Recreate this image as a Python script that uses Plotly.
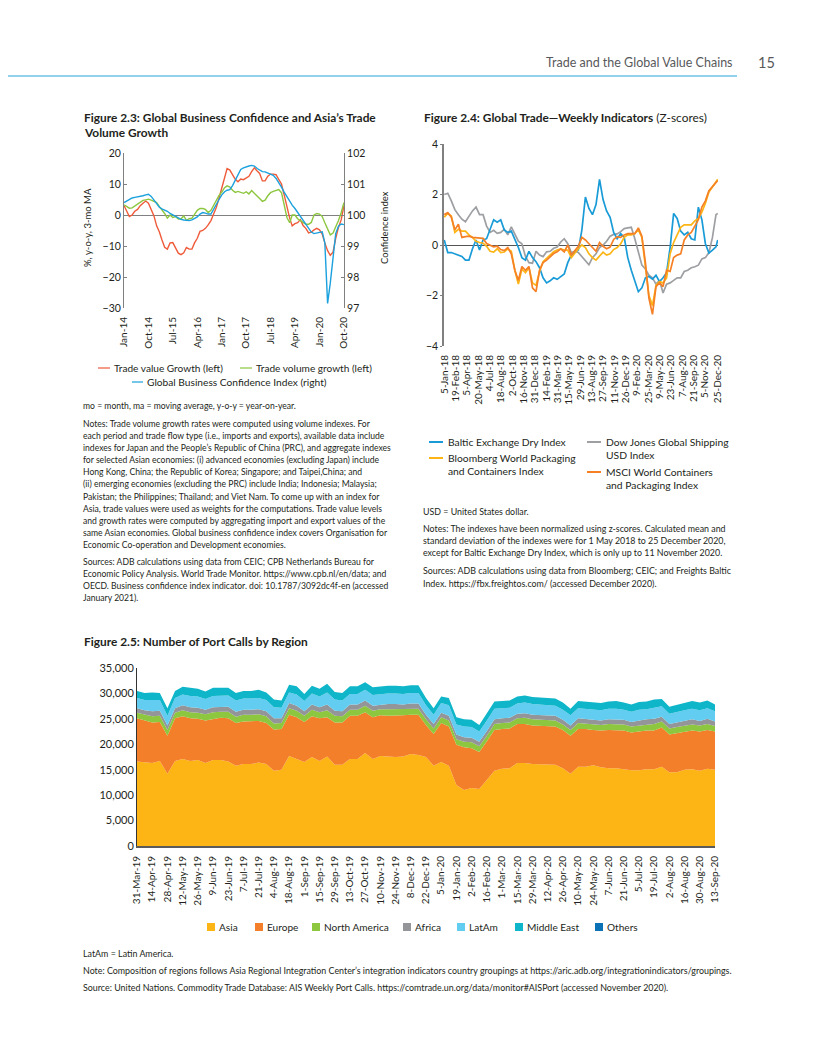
import plotly.graph_objects as go
import pandas as pd

# page is rendered with an 8px body margin, so the figure is 8px smaller and coordinates shifted
OFF = 8
W, H = 816 - OFF, 1056 - OFF
FONT = "Lato"
TXT = "#231F20"


def px(x):
    return (x - OFF) / W


def py(y):
    return 1 - (y - OFF) / H


# ---------------- Figure 2.3 data (monthly, Jan-2014 .. Oct-2020) ----------------
F23_START = "2014-01-01"
F23_N = 82
TRADE_VALUE = [3.0, 1.0, -0.5, 0.0, 1.2, 1.8, 3.0, 3.8, 4.5, 3.8,
               2.0, -0.2, -3.5, -5.5, -8.0, -10.4, -11.0, -9.0, -8.9, -10.5,
               -12.3, -12.8, -12.2, -10.5, -11.0, -11.0, -9.0, -7.5, -5.3, -5.0,
               -4.3, -3.2, -1.8, 0.3, 2.5, 5.5, 9.0, 12.0, 15.0, 14.5,
               12.8, 11.5, 10.7, 11.6, 11.4, 12.0, 12.5, 14.0, 15.2, 14.2,
               13.4, 11.0, 11.0, 12.5, 13.2, 13.2, 13.0, 11.5, 10.0, 6.5,
               2.5, -1.0, -3.5, -2.8, -2.5, -1.5, -3.4, -4.3, -5.8, -5.5,
               -4.8, -4.3, -4.8, -6.2, -9.0, -11.5, -13.0, -12.0, -7.5, -4.0,
               -1.5, 3.0]
TRADE_VOLUME = [3.3, 2.6, 2.2, 2.3, 2.9, 3.6, 4.2, 4.7, 4.9, 5.1,
                4.8, 4.5, 4.0, 2.7, 1.8, 0.5, -1.0, 0.0, -0.8, -0.5,
                -1.3, -1.2, -0.3, -1.7, -1.2, -1.0, 0.2, 1.5, 2.1, 2.1,
                1.8, 0.8, 1.5, 3.0, 5.0, 6.3, 7.4, 8.8, 9.4, 9.0,
                8.0, 7.3, 7.6, 7.4, 7.0, 7.5, 6.8, 7.9, 7.1, 6.3,
                5.3, 4.4, 4.8, 6.2, 7.2, 7.6, 7.9, 8.2, 7.2, 3.5,
                -0.8, -2.5, 0.0, 0.0, -1.2, -1.8, -2.3, -3.0, -3.0, -2.4,
                0.0, 0.5, 0.3, -0.5, -2.5, -4.5, -6.4, -5.8, -4.0, -1.8,
                0.8, 4.0]
CONFIDENCE = [100.40, 100.45, 100.50, 100.55, 100.57, 100.58, 100.59, 100.62, 100.65, 100.67,
              100.60, 100.48, 100.36, 100.25, 100.20, 100.17, 100.12, 100.05, 100.00, 99.95,
              99.90, 99.86, 99.84, 99.82, 99.82, 99.84, 99.88, 99.94, 100.03, 100.08,
              100.06, 100.03, 100.03, 100.20, 100.37, 100.50, 100.65, 100.75, 100.80, 100.82,
              100.95, 101.12, 101.30, 101.47, 101.52, 101.56, 101.58, 101.60, 101.58, 101.50,
              101.44, 101.40, 101.39, 101.36, 101.32, 101.28, 101.18, 101.05, 100.90, 100.74,
              100.59, 100.45, 100.32, 100.21, 100.08, 99.95, 99.83, 99.70, 99.57, 99.45,
              99.40, 99.42, 99.45, 99.46, 99.10, 97.15, 97.80, 98.70, 99.40, 99.64,
              99.71, 99.69]
F23_TICKS = ["2014-01-01", "2014-10-01", "2015-07-01", "2016-04-01", "2017-01-01",
             "2017-10-01", "2018-07-01", "2019-04-01", "2020-01-01", "2020-10-01"]
F23_TICKTEXT = ["Jan-14", "Oct-14", "Jul-15", "Apr-16", "Jan-17",
                "Oct-17", "Jul-18", "Apr-19", "Jan-20", "Oct-20"]

# ---------------- Figure 2.4 data (z-scores, every 2 weeks from 5-Jan-18, last 25-Dec-20) ----------------
F24_START = "2018-01-05"
F24_LAST = "2020-12-25"
BALTIC = [0.2, -0.3, -0.3, -0.35, -0.4, -0.45, -0.6, -0.6, -0.15, 0.2,
          -0.2, 0.2, 0.25, 0.6, 1.0, 0.9, 1.0, 0.6, 0.5, 0.55,
          0.25, -0.1, -0.5, -0.6, -0.25, -0.5, -0.66, -0.9, -1.3, -1.5,
          -1.42, -1.3, -1.36, -1.25, -1.15, -0.7, -0.4, -0.28, -0.2, 0.6,
          1.9, 1.45, 1.2, 1.6, 2.6, 1.8, 1.35, 1.1, 0.5, 0.25,
          0.45, 0.3, -0.5, -1.0, -1.45, -1.85, -1.7, -1.3, -1.25, -1.35,
          -1.2, -1.45, -1.3, -1.1, -0.1, 1.25, 1.05, 0.55, 0.4, 0.5,
          0.25, 0.2, 1.5, 1.0, 0.05, -0.32, -0.2, -0.07, 0.2]
DOW_JONES = [2.0, 2.05, 1.75, 1.4, 1.2, 1.02, 0.92, 1.15, 1.35, 1.5,
             1.2, 1.2, 0.75, 0.5, 0.58, 0.46, 0.5, 0.62, 0.4, 0.72,
             0.45, 0.15, 0.05, -0.45, -0.7, -0.72, -0.25, -0.4, -0.46, -0.27,
             -0.25, -0.13, -0.08, 0.12, 0.25, 0.05, -0.3, -0.25, -0.3, -0.45,
             -0.64, -0.78, -0.5, -0.35, -0.1, 0.0, 0.15, 0.35, 0.42, 0.44,
             0.53, 0.65, 0.68, 0.7, 0.25, -0.28, -0.8, -0.95, -1.2, -1.3,
             -1.55, -1.4, -1.9, -1.55, -1.5, -1.4, -1.3, -1.3, -1.05, -1.0,
             -0.9, -0.86, -0.8, -0.55, -0.5, -0.3, 0.3, 1.2, 1.25]
BLOOMBERG = [1.1, 1.25, 1.15, 0.5, 0.62, 0.55, 0.55, 0.4, 0.3, 0.15,
             0.1, 0.07, -0.05, -0.25, -0.28, -0.15, -0.3, -0.28, -0.15, -0.25,
             -1.0, -1.55, -0.95, -1.1, -0.9, -1.5, -1.6, -1.05, -0.66, -0.52,
             -0.4, -0.27, -0.2, -0.15, -0.2, -0.2, -0.5, -0.3, -0.15, 0.0,
             -0.1, -0.35, -0.5, -0.6, -0.45, -0.28, -0.4, -0.35, -0.18, -0.1,
             0.05, 0.3, 0.4, 0.4, 0.45, 0.6, 0.3, -0.75, -2.0, -2.4,
             -1.6, -1.45, -1.5, -1.3, -0.35, 0.1, 0.4, 0.7, 0.8, 0.8,
             0.8, 0.95, 1.05, 1.3, 1.65, 2.1, 2.3, 2.45, 2.6]
MSCI = [1.2, 1.28, 1.1, 0.6, 0.82, 0.3, 0.33, 0.35, 0.3, 0.28,
        0.28, 0.26, 0.06, 0.0, -0.07, -0.05, -0.18, -0.22, -0.1, -0.35,
        -1.0, -1.4, -0.85, -1.0, -0.85, -1.7, -1.85, -1.0, -0.7, -0.6,
        -0.46, -0.34, -0.27, -0.15, -0.27, 0.0, -0.4, -0.2, -0.05, 0.3,
        0.2, 0.05, -0.1, -0.25, 0.1, -0.05, -0.15, -0.08, 0.22, 0.33,
        0.3, 0.4, 0.45, 0.45, 0.45, 0.68, 0.35, -0.7, -2.1, -2.75,
        -1.65, -1.5, -1.65, -1.0, -1.05, -0.5, -0.4, -0.35, 0.2, 0.4,
        0.5, 0.75, 1.0, 1.5, 1.75, 2.15, 2.3, 2.45, 2.55]
F24_TICKS = ["2018-01-05", "2018-02-19", "2018-04-05", "2018-05-20", "2018-07-04",
             "2018-08-18", "2018-10-02", "2018-11-16", "2018-12-31", "2019-02-14",
             "2019-03-31", "2019-05-15", "2019-06-29", "2019-08-13", "2019-09-27",
             "2019-11-11", "2019-12-26", "2020-02-09", "2020-03-25", "2020-05-09",
             "2020-06-23", "2020-08-07", "2020-09-21", "2020-11-05", "2020-12-25"]
F24_TICKTEXT = ["5-Jan-18", "19-Feb-18", "5-Apr-18", "20-May-18", "4-Jul-18",
                "18-Aug-18", "2-Oct-18", "16-Nov-18", "31-Dec-18", "14-Feb-19",
                "31-Mar-19", "15-May-19", "29-Jun-19", "13-Aug-19", "27-Sep-19",
                "11-Nov-19", "26-Dec-19", "9-Feb-20", "25-Mar-20", "9-May-20",
                "23-Jun-20", "7-Aug-20", "21-Sep-20", "5-Nov-20", "25-Dec-20"]

# ---------------- Figure 2.5 data (thousand port calls, weekly 31-Mar-19 .. 13-Sep-20) ----------------
F25_START = "2019-03-31"
F25_N = 77
ASIA = [16.6, 16.4, 16.3, 16.7, 14.2, 16.7, 17.1, 16.7, 16.9, 16.3,
        16.9, 16.9, 16.6, 15.8, 16.1, 16.1, 16.4, 16.1, 14.8, 15.0,
        17.7, 17.1, 16.5, 17.5, 16.7, 17.6, 16.0, 16.0, 17.1, 17.1,
        18.3, 17.1, 17.7, 17.6, 17.5, 17.6, 18.1, 17.9, 17.5, 15.8,
        16.5, 15.8, 12.0, 11.0, 11.4, 11.2, 13.0, 14.8, 15.2, 15.3,
        16.3, 16.3, 16.1, 16.1, 16.1, 16.0, 15.3, 14.2, 15.6, 15.6,
        15.9, 15.5, 15.3, 15.3, 15.1, 14.9, 14.9, 15.1, 15.1, 15.6,
        14.5, 14.5, 15.0, 15.1, 14.8, 15.2, 15.0]
EUROPE = [8.5, 8.3, 8.0, 7.7, 7.5, 8.4, 8.4, 8.4, 8.1, 8.4,
          8.1, 8.3, 8.5, 8.4, 8.4, 8.4, 8.2, 8.1, 8.1, 8.0,
          8.1, 8.2, 7.9, 8.0, 8.4, 7.7, 8.3, 8.3, 8.5, 8.5,
          8.0, 8.2, 8.0, 8.0, 8.1, 8.1, 7.7, 7.9, 6.3, 6.2,
          7.7, 7.7, 7.9, 8.4, 7.8, 7.3, 7.6, 8.0, 7.8, 7.8,
          7.7, 7.7, 7.6, 7.5, 7.4, 7.5, 7.5, 7.5, 7.4, 7.4,
          6.9, 7.2, 7.5, 7.5, 7.6, 7.4, 7.6, 7.6, 7.6, 7.7,
          7.4, 7.7, 7.5, 7.6, 7.7, 7.6, 7.5]
NORTH_AMERICA = [1.1, 1.1, 1.2, 1.2, 1.1, 1.1, 1.2, 1.2, 1.2, 1.2,
                 1.3, 1.2, 1.3, 1.2, 1.3, 1.3, 1.3, 1.3, 1.2, 1.2,
                 1.3, 1.3, 1.2, 1.3, 1.2, 1.4, 1.3, 1.2, 1.2, 1.2,
                 1.3, 1.3, 1.2, 1.3, 1.3, 1.2, 1.2, 1.2, 1.1, 1.1,
                 1.1, 1.2, 1.1, 1.1, 1.2, 1.1, 1.1, 1.2, 1.2, 1.2,
                 1.1, 1.2, 1.2, 1.2, 1.2, 1.2, 1.1, 1.1, 1.2, 1.1,
                 1.2, 1.1, 1.2, 1.2, 1.2, 1.2, 1.2, 1.2, 1.3, 1.2,
                 1.2, 1.2, 1.2, 1.2, 1.2, 1.2, 1.1]
AFRICA = [0.9, 0.9, 1.0, 1.0, 0.9, 0.9, 1.0, 1.0, 1.0, 0.9,
          1.0, 1.0, 1.0, 1.0, 1.0, 1.0, 1.0, 1.0, 1.0, 0.9,
          1.0, 1.0, 0.9, 1.0, 1.0, 1.1, 1.0, 1.0, 1.0, 1.0,
          1.0, 1.0, 0.9, 1.0, 1.0, 0.9, 1.0, 1.0, 0.9, 0.9,
          0.9, 0.9, 0.9, 0.9, 0.9, 0.9, 0.9, 0.9, 0.9, 0.9,
          0.9, 0.9, 0.9, 0.9, 0.9, 0.9, 0.9, 0.9, 0.9, 0.9,
          0.9, 0.9, 0.9, 0.9, 0.9, 0.9, 1.0, 1.0, 1.0, 0.9,
          0.9, 0.9, 0.9, 1.0, 0.9, 1.0, 0.9]
LATAM = [2.0, 2.0, 2.2, 2.1, 1.9, 2.0, 2.1, 2.2, 2.2, 2.1,
         2.2, 2.2, 2.2, 2.2, 2.2, 2.2, 2.2, 2.2, 2.2, 2.1,
         2.1, 2.2, 2.0, 2.2, 2.1, 2.4, 2.2, 2.1, 2.1, 2.1,
         2.1, 2.1, 2.1, 2.1, 2.1, 2.1, 2.1, 2.1, 1.9, 1.8,
         1.9, 2.1, 2.0, 2.1, 2.1, 2.0, 2.1, 2.1, 2.0, 2.0,
         2.0, 2.1, 2.1, 2.1, 2.0, 2.0, 2.0, 2.0, 2.0, 2.0,
         2.0, 2.0, 2.1, 2.1, 2.0, 2.0, 2.1, 2.0, 2.2, 2.1,
         2.0, 2.1, 2.1, 2.1, 2.1, 2.1, 2.0]
MIDDLE_EAST = [1.4, 1.4, 1.5, 1.4, 1.5, 1.4, 1.5, 1.6, 1.5, 1.5,
               1.6, 1.5, 1.5, 1.5, 1.5, 1.5, 1.6, 1.5, 1.5, 1.4,
               1.5, 1.6, 1.4, 1.5, 1.5, 1.7, 1.5, 1.5, 1.5, 1.5,
               1.5, 1.5, 1.5, 1.5, 1.5, 1.5, 1.5, 1.5, 1.4, 1.3,
               1.3, 1.4, 1.4, 1.4, 1.4, 1.3, 1.4, 1.4, 1.4, 1.4,
               1.4, 1.4, 1.4, 1.4, 1.4, 1.4, 1.4, 1.3, 1.4, 1.4,
               1.4, 1.4, 1.4, 1.5, 1.4, 1.4, 1.5, 1.5, 1.6, 1.4,
               1.4, 1.4, 1.5, 1.5, 1.5, 1.5, 1.3]
OTHERS = [0.0, 0.0, 0.0, 0.0, 0.0, 0.0, 0.0, 0.0, 0.0, 0.0,
          0.0, 0.0, 0.0, 0.0, 0.0, 0.0, 0.0, 0.0, 0.0, 0.0,
          0.0, 0.0, 0.0, 0.0, 0.0, 0.0, 0.0, 0.0, 0.0, 0.0,
          0.0, 0.0, 0.0, 0.0, 0.0, 0.0, 0.0, 0.0, 0.0, 0.0,
          0.0, 0.0, 0.0, 0.0, 0.0, 0.0, 0.0, 0.0, 0.0, 0.0,
          0.0, 0.0, 0.0, 0.0, 0.0, 0.0, 0.0, 0.0, 0.0, 0.0,
          0.0, 0.0, 0.0, 0.0, 0.0, 0.0, 0.0, 0.0, 0.0, 0.0,
          0.0, 0.0, 0.0, 0.0, 0.0, 0.0, 0.0]
F25_TICKTEXT = ["31-Mar-19", "14-Apr-19", "28-Apr-19", "12-May-19", "26-May-19", "9-Jun-19",
                "23-Jun-19", "7-Jul-19", "21-Jul-19", "4-Aug-19", "18-Aug-19", "1-Sep-19",
                "15-Sep-19", "29-Sep-19", "13-Oct-19", "27-Oct-19", "10-Nov-19", "24-Nov-19",
                "8-Dec-19", "22-Dec-19", "5-Jan-20", "19-Jan-20", "2-Feb-20", "16-Feb-20",
                "1-Mar-20", "15-Mar-20", "29-Mar-20", "12-Apr-20", "26-Apr-20", "10-May-20",
                "24-May-20", "7-Jun-20", "21-Jun-20", "5-Jul-20", "19-Jul-20", "2-Aug-20",
                "16-Aug-20", "30-Aug-20", "13-Sep-20"]
F25_YTICKS = [0, 5, 10, 15, 20, 25, 30, 35]
F25_YTICKTEXT = ["0", "5,000", "10,000", "15,000", "20,000", "25,000", "30,000", "35,000"]

# ---------------- colours ----------------
C_RED = "#EF5B3A"
C_GREEN = "#8DC63F"
C_BLUE = "#1BA1DD"
C24 = {"Baltic": "#199BD7", "Bloomberg": "#FDB515", "Dow": "#9D9FA2", "MSCI": "#F58025"}
C25 = {"Asia": "#FDB515", "Europe": "#F47F2A", "North America": "#8DC63F", "Africa": "#939598",
       "LatAm": "#62CCF1", "Middle East": "#0FB6C9", "Others": "#0B72B5"}

f23_x = pd.date_range(F23_START, periods=F23_N, freq="MS")
f24_x = list(pd.date_range(F24_START, periods=len(BALTIC) - 1, freq="14D")) + [pd.Timestamp(F24_LAST)]
f25_x = pd.date_range(F25_START, periods=F25_N, freq="7D")

fig = go.Figure()

# Figure 2.3
fig.add_trace(go.Scatter(x=f23_x, y=TRADE_VALUE, mode="lines", line=dict(color=C_RED, width=1.4),
                         xaxis="x", yaxis="y"))
fig.add_trace(go.Scatter(x=f23_x, y=TRADE_VOLUME, mode="lines", line=dict(color=C_GREEN, width=1.4),
                         xaxis="x", yaxis="y"))
fig.add_trace(go.Scatter(x=f23_x, y=CONFIDENCE, mode="lines", line=dict(color=C_BLUE, width=1.4),
                         xaxis="x", yaxis="y2"))

# Figure 2.4
for name, vals in [("Dow", DOW_JONES), ("Baltic", BALTIC), ("Bloomberg", BLOOMBERG), ("MSCI", MSCI)]:
    fig.add_trace(go.Scatter(x=f24_x, y=vals, mode="lines", line=dict(color=C24[name], width=1.7),
                             xaxis="x2", yaxis="y3"))

# Figure 2.5
for name, vals in [("Asia", ASIA), ("Europe", EUROPE), ("North America", NORTH_AMERICA),
                   ("Africa", AFRICA), ("LatAm", LATAM), ("Middle East", MIDDLE_EAST), ("Others", OTHERS)]:
    fig.add_trace(go.Scatter(x=f25_x, y=vals, mode="lines", stackgroup="one",
                             line=dict(width=0, color=C25[name]), fillcolor=C25[name],
                             xaxis="x4", yaxis="y4"))

AX_GRAY = "#808080"
tickfont = dict(family=FONT, size=10, color=TXT)
CLEAR = "rgba(0,0,0,0)"

fig.update_layout(
    template="none",
    width=W, height=H, margin=dict(l=0, r=0, t=0, b=0, pad=0, autoexpand=False),
    paper_bgcolor="white", plot_bgcolor=CLEAR, showlegend=False,
    font=dict(family=FONT, color=TXT),
    xaxis=dict(domain=[px(124), px(344)], anchor="y", type="date", automargin=False,
               range=["2013-12-31", "2020-10-02"], tickmode="array",
               tickvals=F23_TICKS, ticktext=F23_TICKTEXT, tickangle=-90,
               showgrid=False, showline=False, zeroline=False,
               ticks="outside", ticklen=4, tickcolor=CLEAR, tickfont=tickfont),
    yaxis=dict(domain=[py(308), py(153)], anchor="x", range=[-30, 20], automargin=False,
               tickvals=[-30, -20, -10, 0, 10, 20], showgrid=False, showline=True,
               linecolor=AX_GRAY, linewidth=1, ticks="inside", ticklen=3, tickcolor=AX_GRAY,
               zeroline=True, zerolinecolor=AX_GRAY, zerolinewidth=1,
               tickfont=dict(family=FONT, size=10.5, color=TXT)),
    yaxis2=dict(overlaying="y", side="right", anchor="x", range=[97, 102], automargin=False,
                tickvals=[97, 98, 99, 100, 101, 102], showgrid=False, showline=True,
                linecolor=AX_GRAY, linewidth=1, ticks="inside", ticklen=3, tickcolor=AX_GRAY,
                zeroline=False, tickfont=dict(family=FONT, size=10.5, color=TXT)),
    xaxis2=dict(domain=[px(444), px(718)], anchor="y3", type="date", automargin=False,
                range=["2018-01-04", "2020-12-26"], tickmode="array",
                tickvals=F24_TICKS, ticktext=F24_TICKTEXT, tickangle=-90,
                showgrid=False, showline=False, zeroline=False,
                ticks="outside", ticklen=4, tickcolor=CLEAR, tickfont=tickfont),
    yaxis3=dict(domain=[py(346), py(144)], anchor="x2", range=[-4, 4], automargin=False,
                tickvals=[-4, -2, 0, 2, 4], showgrid=False, showline=True,
                linecolor=AX_GRAY, linewidth=1.5, ticks="outside", ticklen=2, tickcolor=AX_GRAY,
                zeroline=True, zerolinecolor="#555555", zerolinewidth=1.2,
                tickfont=dict(family=FONT, size=10.5, color=TXT)),
    xaxis4=dict(domain=[px(137), px(715)], anchor="y4", type="date", automargin=False,
                range=["2019-03-31", "2020-09-13"], tickmode="array",
                tickvals=list(f25_x[::2]), ticktext=F25_TICKTEXT, tickangle=-90,
                showgrid=False, showline=True, linecolor="#5A5A5A", linewidth=2,
                zeroline=False, ticks="outside", ticklen=4, tickcolor=CLEAR, tickfont=tickfont),
    yaxis4=dict(domain=[py(846), py(668)], anchor="x4", range=[0, 35], automargin=False,
                tickvals=F25_YTICKS, ticktext=F25_YTICKTEXT, showgrid=False, showline=True,
                linecolor="#333333", linewidth=1, ticks="", zeroline=False,
                tickfont=dict(family=FONT, size=11, color=TXT)),
)

ann = []
shapes = []


def text(x, y, s, size=8.3, anchor="left", color=TXT, angle=0, family=FONT):
    ann.append(dict(x=px(x), y=py(y), xref="paper", yref="paper", text=s, showarrow=False,
                    xanchor=anchor, yanchor="middle", textangle=angle,
                    font=dict(family=family, size=size, color=color)))


def hline(x0, x1, y, color, width=1.5):
    shapes.append(dict(type="line", xref="paper", yref="paper", x0=px(x0), x1=px(x1),
                       y0=py(y), y1=py(y), line=dict(color=color, width=width)))


def square(x, y, color, s=8):
    shapes.append(dict(type="rect", xref="paper", yref="paper", x0=px(x), x1=px(x + s),
                       y0=py(y + s / 2), y1=py(y - s / 2), line=dict(width=0), fillcolor=color))


# header
text(735, 62, "Trade and the Global Value Chains", size=12.5, anchor="right", color="#58595B")
text(766, 62, "15", size=14.5, anchor="center", color="#58595B")
hline(OFF, 737, 76, "#2BA3DB", 1.2)

# ---- Figure 2.3 texts ----
text(82, 118, "<b>Figure 2.3: Global Business Confidence and Asia’s Trade</b>", size=11.9)
text(82, 132, "<b>Volume Growth</b>", size=11.9)
text(88, 228, "%, y-o-y, 3-mo MA", size=9.5, anchor="center", angle=-90)
text(385, 228, "Confidence index", size=9.5, anchor="center", angle=-90)
hline(98, 110, 368, C_RED, 1.2)
text(112, 368, "Trade value Growth (left)", size=10.1)
hline(240, 252, 368, C_GREEN, 1.2)
text(254, 368, "Trade volume growth (left)", size=10.1)
hline(132, 143, 382, C_BLUE, 1.2)
text(145, 382, "Global Business Confidence Index (right)", size=10.2)

f23_notes = [
    (406, "mo = month, ma = moving average, y-o-y = year-on-year."),
    (424, "Notes: Trade volume growth rates were computed using volume indexes. For"),
    (436, "each period and trade flow type (i.e., imports and exports), available data include"),
    (448, "indexes for Japan and the People’s Republic of China (PRC), and aggregate indexes"),
    (460, "for selected Asian economies: (i) advanced economies (excluding Japan) include"),
    (472, "Hong Kong, China; the Republic of Korea; Singapore; and Taipei,China; and"),
    (484, "(ii) emerging economies (excluding the PRC) include India; Indonesia; Malaysia;"),
    (497, "Pakistan; the Philippines; Thailand; and Viet Nam. To come up with an index for"),
    (509, "Asia, trade values were used as weights for the computations. Trade value levels"),
    (521, "and growth rates were computed by aggregating import and export values of the"),
    (533, "same Asian economies. Global business confidence index covers Organisation for"),
    (545, "Economic Co-operation and Development economies."),
    (562, "Sources: ADB calculations using data from CEIC; CPB Netherlands Bureau for"),
    (574, "Economic Policy Analysis. World Trade Monitor. https://www.cpb.nl/en/data; and"),
    (586, "OECD. Business confidence index indicator. doi: 10.1787/3092dc4f-en (accessed"),
    (598, "January 2021)."),
]
for y, s in f23_notes:
    text(81, y, s, size=8.6)

# ---- Figure 2.4 texts ----
text(422, 118, "<b>Figure 2.4: Global Trade—Weekly Indicators</b> (Z-scores)", size=11.9)
hline(429, 443, 442, C24["Baltic"], 2)
text(446, 442, "Baltic Exchange Dry Index", size=10.3)
hline(429, 443, 458, C24["Bloomberg"], 2)
text(446, 458, "Bloomberg World Packaging", size=10.3)
text(446, 471, "and Containers Index", size=10.3)
hline(587, 601, 442, C24["Dow"], 2)
text(604, 442, "Dow Jones Global Shipping", size=10.3)
text(604, 455, "USD Index", size=10.3)
hline(587, 601, 472, C24["MSCI"], 2)
text(604, 472, "MSCI World Containers", size=10.3)
text(604, 485, "and Packaging Index", size=10.3)

f24_notes = [
    (511, "USD = United States dollar."),
    (528, "Notes: The indexes have been normalized using z-scores. Calculated mean and"),
    (540, "standard deviation of the indexes were for 1 May 2018 to 25 December 2020,"),
    (552, "except for Baltic Exchange Dry Index, which is only up to 11 November 2020."),
    (570, "Sources: ADB calculations using data from Bloomberg; CEIC; and Freights Baltic"),
    (583, "Index. https://fbx.freightos.com/ (accessed December 2020)."),
]
for y, s in f24_notes:
    text(421, y, s, size=8.85)

# ---- Figure 2.5 texts ----
text(82, 641, "<b>Figure 2.5: Number of Port Calls by Region</b>", size=11.9)
legend25 = [("Asia", 207), ("Europe", 255), ("North America", 312), ("Africa", 403),
            ("LatAm", 457), ("Middle East", 515), ("Others", 595)]
for name, x in legend25:
    square(x, 927, C25[name])
    text(x + 10, 927, name, size=10.1)

text(81, 953, "LatAm = Latin America.", size=8.9)
text(81, 970, "Note: Composition of regions follows Asia Regional Integration Center’s integration indicators "
              "country groupings at https://aric.adb.org/integrationindicators/groupings.", size=8.9)
text(81, 987, "Source: United Nations. Commodity Trade Database: AIS Weekly Port Calls. "
              "https://comtrade.un.org/data/monitor#AISPort (accessed November 2020).", size=8.9)

fig.update_layout(annotations=ann, shapes=shapes)
fig.write_html("out.html")
